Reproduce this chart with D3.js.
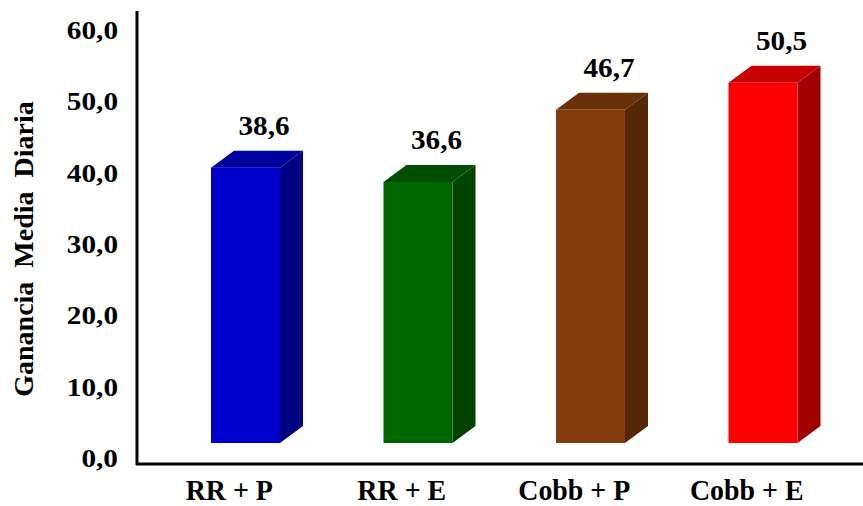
<!DOCTYPE html>
<html>
<head>
<meta charset="utf-8">
<script src="https://cdn.jsdelivr.net/npm/d3@7"></script>
<style>
  body { margin: 0; background: #fff; }
  text { font-family: "Liberation Serif", "Times New Roman", serif; font-weight: bold; fill: #000; }
</style>
</head>
<body>
<div id="display"></div>
<script>
let w = 863;
let h = 506;

const categories = ['RR + P', 'RR + E', 'Cobb + P', 'Cobb + E'];
const values = [38.6, 36.6, 46.7, 50.5];
const valueLabels = ['38,6', '36,6', '46,7', '50,5'];
const tickValues = [0, 10, 20, 30, 40, 50, 60];
const tickLabels = ['0,0', '10,0', '20,0', '30,0', '40,0', '50,0', '60,0'];
const frontColors = ['#0000cc', '#006600', '#843c0c', '#ff0000'];
const topColors = ['#00009e', '#004f00', '#6a300a', '#c80000'];
const sideColors = ['#000080', '#004400', '#552707', '#a00000'];

// 3d offset of the bars (back face vs front face)
const dx = 23, dy = -17;
const front = 69;

// the picture is a bit stretched, so squeeze/stretch text widths
const stretch = (sel, k) => sel.each(function () {
    let len = this.getComputedTextLength();
    d3.select(this).attr('textLength', len * k).attr('lengthAdjust', 'spacingAndGlyphs');
});

let viz = d3.select('#display')
            .append('svg')
                .attr('width', w)
                .attr('height', h)
                .style('background-color', 'white');

let xScale = d3.scaleBand().domain(categories).range([143, 833]);
let yScale = d3.scaleLinear().domain([0, 60]).range([458, 30]);
// front faces sit a bit lower than the tick labels
const yFront = (v) => yScale(v) - 15;

// y axis labels
let yAxis = d3.axisLeft(yScale)
    .tickValues(tickValues)
    .tickFormat((d, i) => tickLabels[i])
    .tickSize(0)
    .tickPadding(19);
let yg = viz.append('g')
    .attr('class', 'yaxis')
    .attr('transform', 'translate(' + 137 + ',' + 0 + ')')
    .call(yAxis);
yg.select('.domain').remove();
yg.selectAll('text')
    .style('font-family', '"Liberation Serif", serif')
    .style('font-weight', 'bold')
    .style('font-size', '25px')
    .attr('fill', '#000')
    .attr('dy', '0.34em')
    .call(stretch, 1.17);

// x axis labels
let xAxis = d3.axisBottom(xScale).tickSize(0).tickPadding(0);
let xg = viz.append('g')
    .attr('class', 'xaxis')
    .attr('transform', 'translate(' + 0 + ',' + 477 + ')')
    .call(xAxis);
xg.select('.domain').remove();
xg.selectAll('text')
    .style('font-family', '"Liberation Serif", serif')
    .style('font-weight', 'bold')
    .style('font-size', '30px')
    .attr('fill', '#000')
    .attr('dy', '0.76em')
    .call(stretch, 0.93);

// bars
let bars = viz.selectAll('.bar')
    .data(values)
    .enter()
    .append('g')
        .attr('class', 'bar');

const x0 = (d, i) => xScale(categories[i]) + 68;

bars.append('polygon')
    .attr('fill', (d, i) => sideColors[i])
    .attr('points', (d, i) => {
        let a = x0(d, i) + front;
        let t = yFront(d), b = yFront(0);
        return [[a, t], [a + dx, t + dy], [a + dx, b + dy], [a, b]].join(' ');
    });

bars.append('polygon')
    .attr('fill', (d, i) => topColors[i])
    .attr('points', (d, i) => {
        let a = x0(d, i);
        let t = yFront(d);
        return [[a, t], [a + front, t], [a + front + dx, t + dy], [a + dx, t + dy]].join(' ');
    });

bars.append('rect')
    .attr('fill', (d, i) => frontColors[i])
    .attr('x', (d, i) => x0(d, i))
    .attr('y', (d) => yFront(d))
    .attr('width', front)
    .attr('height', (d) => yFront(0) - yFront(d));

bars.append('text')
    .attr('x', (d, i) => x0(d, i) + 53)
    .attr('y', (d) => yFront(d) + dy - 16)
    .attr('text-anchor', 'middle')
    .style('font-size', '27px')
    .text((d, i) => valueLabels[i])
    .call(stretch, 1.08);

// axis lines
viz.append('line')
    .attr('x1', 137).attr('x2', 137)
    .attr('y1', 11).attr('y2', 465)
    .attr('stroke', '#000').attr('stroke-width', 3);
viz.append('line')
    .attr('x1', 136).attr('x2', w)
    .attr('y1', 464).attr('y2', 464)
    .attr('stroke', '#000').attr('stroke-width', 3);

// y title
viz.append('text')
    .attr('transform', 'translate(' + 33 + ',' + 249 + ') rotate(-90)')
    .attr('text-anchor', 'middle')
    .style('font-size', '28px')
    .style('word-spacing', '7px')
    .text('Ganancia Media Diaria');
</script>
</body>
</html>
